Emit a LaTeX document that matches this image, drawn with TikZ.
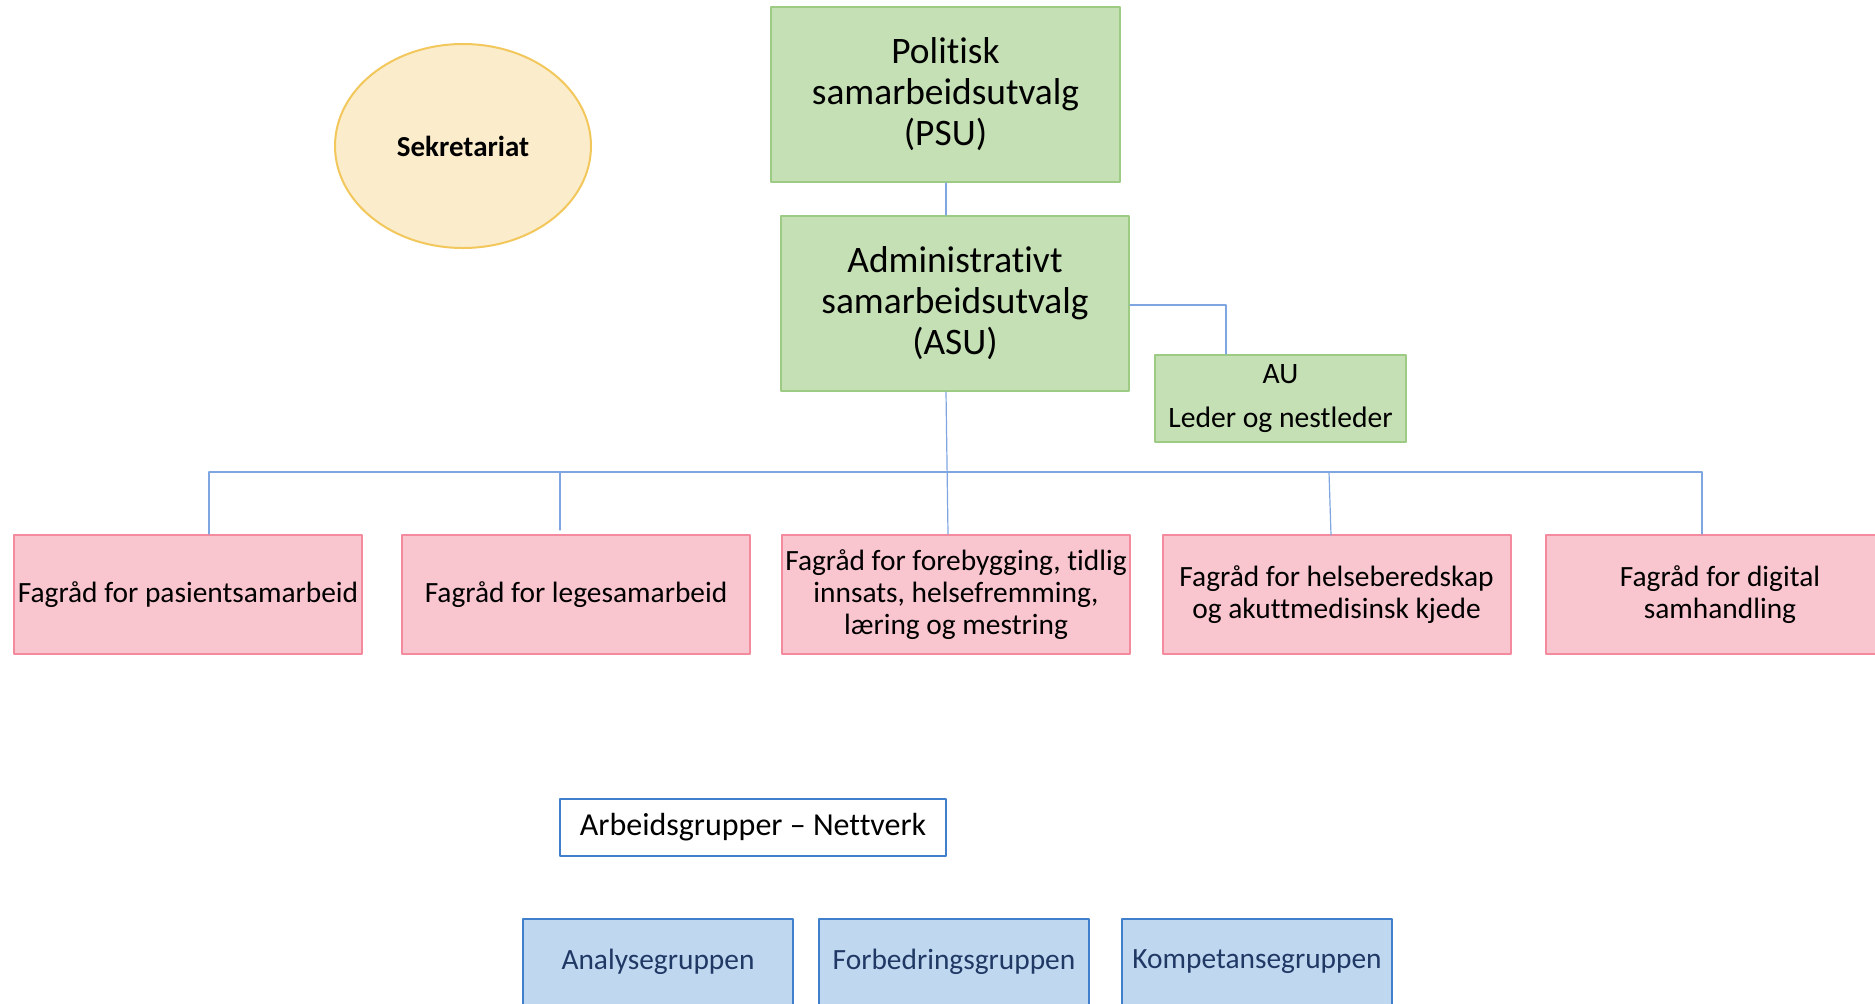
\documentclass[tikz,border=0pt]{standalone}
\usepackage{fontspec}
\setmainfont{Carlito}[Ligatures={NoCommon}]
\definecolor{grnfill}{HTML}{C5E0B4}
\definecolor{grnline}{HTML}{9DCB83}
\definecolor{pnkfill}{HTML}{F9C5CE}
\definecolor{pnkline}{HTML}{F48A9E}
\definecolor{ylwfill}{HTML}{FBECCB}
\definecolor{ylwline}{HTML}{F2C75C}
\definecolor{blufill}{HTML}{C0D7F0}
\definecolor{bluline}{HTML}{3F7FCB}
\definecolor{blutext}{HTML}{1F3864}
\definecolor{conline}{HTML}{7FA6E0}
\usetikzlibrary{shapes.geometric}
\begin{document}
\begin{tikzpicture}[x=0.5pt, y=-0.5pt, line join=round, line cap=round,
  gbox/.style={draw=grnline, fill=grnfill, line width=1pt, align=center, inner sep=0pt},
  fbox/.style={draw=pnkline, fill=pnkfill, line width=1pt, align=center, inner sep=0pt,
    minimum width=174pt, minimum height=59.5pt, font=\fontsize{14.7}{16}\selectfont},
  bbox/.style={draw=bluline, fill=blufill, line width=1pt, align=center, inner sep=0pt,
    minimum width=135pt, minimum height=43pt, text=blutext, font=\fontsize{14.7}{16}\selectfont},
  conn/.style={draw=conline, line width=0.6pt}]
\useasboundingbox (0,0) rectangle (1875,1003);
\clip (0,0) rectangle (1875,1003);
% ledelse
\node[gbox, minimum width=174.5pt, minimum height=87.5pt, font=\fontsize{18.7}{20.5}\selectfont]
  (psu) at (945.5,94.5) {Politisk\\samarbeidsutvalg\\(PSU)};
\node[gbox, minimum width=174pt, minimum height=87.5pt, font=\fontsize{18.7}{20.5}\selectfont]
  (asu) at (955,303.5) {Administrativt\\samarbeidsutvalg\\(ASU)};
\node[gbox, minimum width=125.5pt, minimum height=43.5pt, font=\fontsize{14.8}{22}\selectfont]
  (au) at (1280.5,398.5) {AU\\Leder og nestleder};
\node[ellipse, draw=ylwline, fill=ylwfill, line width=1pt, minimum width=128pt, minimum height=102pt,
  font=\fontsize{14.5}{16}\selectfont\bfseries] (sek) at (463,146) {Sekretariat};
% fagråd
\node[fbox] (f1) at (188,594.5) {Fagråd for pasientsamarbeid};
\node[fbox] (f2) at (576,594.5) {Fagråd for legesamarbeid};
\node[fbox] (f3) at (956,594.5) {Fagråd for forebygging, tidlig\\innsats, helsefremming,\\læring og mestring};
\node[fbox] (f4) at (1336.5,594.5) {Fagråd for helseberedskap\\og akuttmedisinsk kjede};
\node[fbox] (f5) at (1720,594.5) {Fagråd for digital\\samhandling};
% arbeidsgrupper
\node[draw=bluline, fill=white, line width=1pt, minimum width=193pt, minimum height=28.5pt,
  inner sep=0pt, font=\fontsize{16}{18}\selectfont] (arb) at (753,827) {Arbeidsgrupper – Nettverk};
\node[bbox] (ana) at (658,962) {Analysegruppen};
\node[bbox] (frb) at (954,962) {Forbedringsgruppen};
\node[bbox] (kmp) at (1257,962) {Kompetansegruppen};
% linjer
\coordinate (b1) at (209,472);
\coordinate (b2) at (560,472);
\coordinate (b3) at (947,472);
\coordinate (b4) at (1329,472);
\coordinate (b5) at (1702,472);
\coordinate (e2) at (560,530);
\coordinate (e4) at (1331,535);
\draw[conn] (psu.south -| 946,0) -- (asu.north -| 946,0);
\draw[conn] (asu.south -| 946,0) -- (f3.north -| 948,0);
\draw[conn] (asu.east |- 0,305) -| (au.north -| 1226,0);
\draw[conn] (b1) -- (b5);
\draw[conn] (b1) -- (b1 |- f1.north);
\draw[conn] (b2) -- (e2);
\draw[conn] (b4) -- (e4);
\draw[conn] (b5) -- (b5 |- f5.north);
\end{tikzpicture}
\end{document}
